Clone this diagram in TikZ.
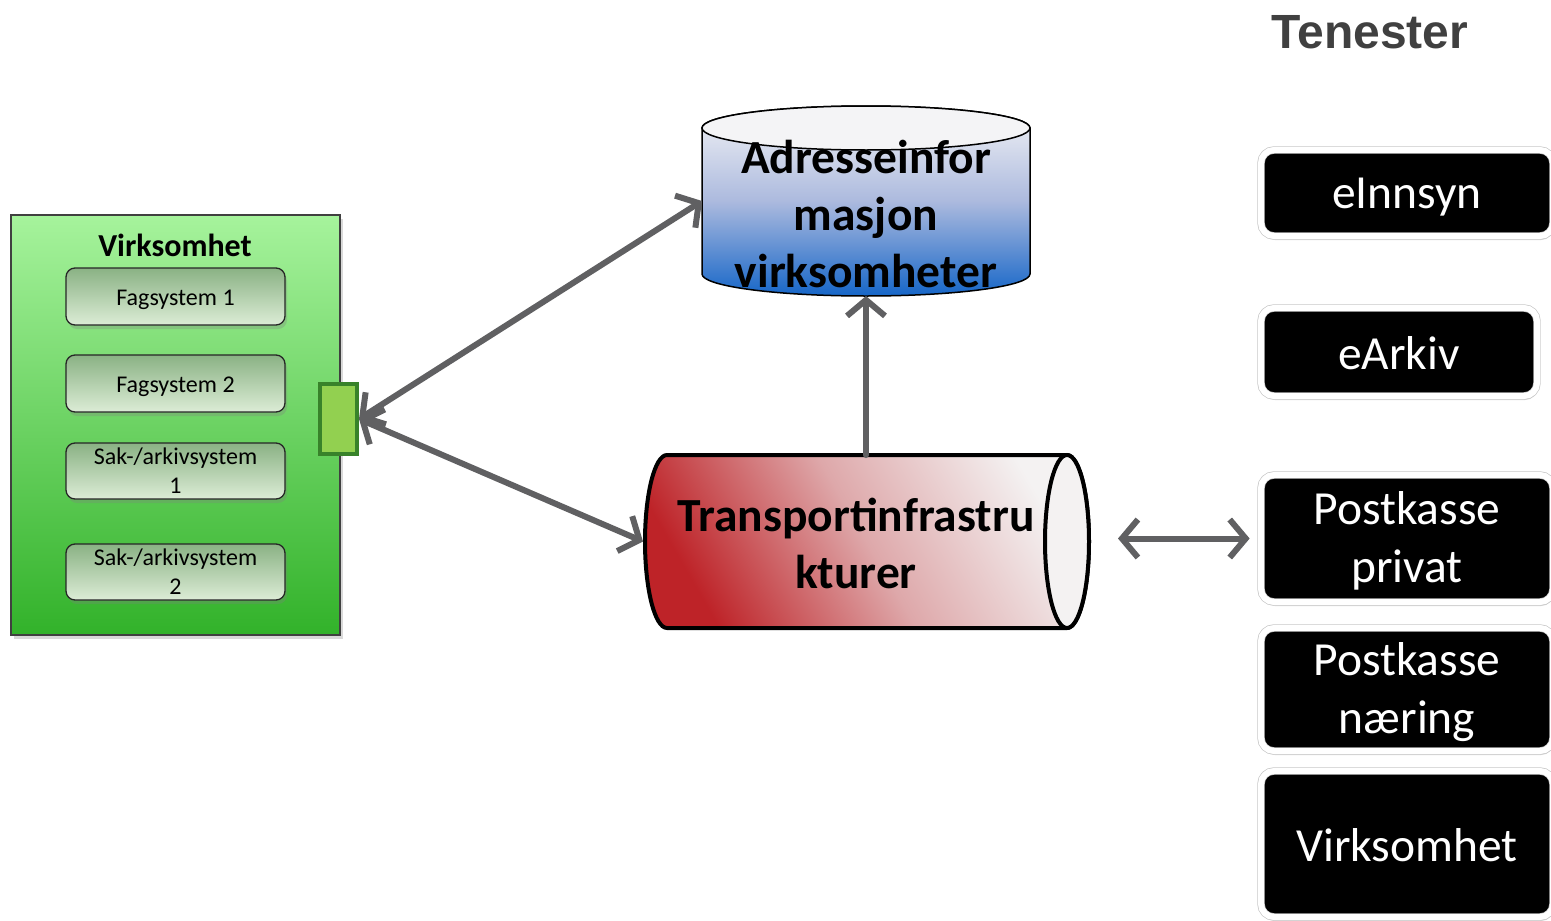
\documentclass[tikz,border=0pt]{standalone}
\usepackage{fontspec}
\setmainfont{Carlito}
\newfontfamily\arialfont{Liberation Sans}
\usetikzlibrary{arrows.meta,shadows,calc}
\definecolor{arrowgray}{RGB}{96,96,98}
\definecolor{greentop}{RGB}{166,243,156}
\definecolor{greenbot}{RGB}{50,178,42}
\definecolor{subtop}{RGB}{138,178,132}
\definecolor{subbot}{RGB}{220,236,214}
\definecolor{portfill}{RGB}{146,208,80}
\definecolor{portdraw}{RGB}{56,130,42}
\definecolor{dbtop}{RGB}{244,244,246}
\definecolor{dbmid}{RGB}{172,186,222}
\definecolor{dbbot}{RGB}{22,102,200}
\definecolor{trred}{RGB}{190,35,40}
\definecolor{trmid}{RGB}{222,168,170}
\definecolor{trwhite}{RGB}{244,242,242}
\definecolor{tentext}{RGB}{64,64,64}
\newcommand{\lowr}[2]{\raisebox{-#1}[\height][\depth]{#2}}
\newcommand{\twol}[2]{\begin{tabular}{@{}c@{}}#1\\#2\end{tabular}}
\begin{document}
\begin{tikzpicture}[x=1pt,y=-1pt,
  >={Straight Barb[length=16pt,width=38pt,line width=6pt]},
  conn/.style={draw=arrowgray, line width=6pt, line cap=round, line join=round},
  anchorbox/.style={shape=rectangle, inner sep=0pt, outer sep=0pt},
  subbox/.style={draw=black!85, line width=1.3pt, rounded corners=9pt,
     top color=subtop, bottom color=subbot, minimum width=219pt, inner sep=0pt,
     align=center, font=\fontsize{24}{29}\selectfont,
     drop shadow={shadow xshift=2pt, shadow yshift=-4pt, opacity=0.3}},
  svc/.style={fill=black, text=white, draw=black!22, double=white, double distance=6pt,
     line width=0.7pt, rounded corners=13pt, inner sep=0pt, align=center,
     font=\fontsize{47.5}{58}\selectfont, minimum width=292pt,
     drop shadow={shadow xshift=1pt, shadow yshift=-4pt, opacity=0.3}},
  bigbold/.style={font=\bfseries\fontsize{47.5}{57}\selectfont, align=center, inner sep=0pt}
]
\useasboundingbox (0,0) rectangle (1551,921);
\clip (0,0) rectangle (1551,921);

% Title
\node[font=\arialfont\bfseries\fontsize{48}{52}\selectfont, text=tentext] (ten) at (1370,32) {Tenester};

% Left organisation box
\node[draw=black!75, line width=1.2pt, top color=greentop, bottom color=greenbot,
      minimum width=329pt, minimum height=420pt, inner sep=0pt,
      drop shadow={shadow xshift=3pt, shadow yshift=-4pt, opacity=0.3}] (virks) at (175.5,425) {};
\node[font=\bfseries\fontsize{32}{36}\selectfont] (virkt) at (175,245) {Virksomhet};
\node[subbox, minimum height=57pt] (fs1) at (175.5,296.5) {\lowr{3pt}{Fagsystem 1}};
\node[subbox, minimum height=57pt] (fs2) at (175.5,383.5) {\lowr{3pt}{Fagsystem 2}};
\node[subbox, minimum height=56pt] (sak1) at (175.5,471) {Sak-/arkivsystem\\1};
\node[subbox, minimum height=56pt] (sak2) at (175.5,572) {Sak-/arkivsystem\\2};
\node[draw=portdraw, fill=portfill, line width=4pt, minimum width=37pt, minimum height=70pt, inner sep=0pt] (port) at (338.5,419) {};

% Database cylinder
\path[draw=black, line width=1.5pt, top color=dbtop, bottom color=dbbot, middle color=dbmid]
  (702,128) -- (702,274) arc[start angle=180, end angle=0, x radius=164, y radius=22]
  -- (1030,128) arc[start angle=0, end angle=-180, x radius=164, y radius=22] -- cycle;
\draw[fill=dbtop, line width=1.5pt] (866,128) ellipse[x radius=164, y radius=22];
\node[anchorbox, minimum width=328pt, minimum height=190pt] (db) at (866,201) {};
\node[bigbold] (dbt) at (866,214) {Adresseinfor\\masjon\\virksomheter};

% Transport cylinder
\path[draw=black, line width=4pt, left color=trred, right color=trwhite, middle color=trmid, shading angle=120]
  (1067,455) -- (667,455) arc[start angle=-90, end angle=-270, x radius=22, y radius=86.5]
  -- (1067,628) arc[start angle=90, end angle=-90, x radius=22, y radius=86.5] -- cycle;
\draw[fill=trwhite, line width=4pt] (1067,541.5) ellipse[x radius=22, y radius=86.5];
\node[anchorbox, minimum width=446pt, minimum height=173pt] (tr) at (866,541.5) {};
\node[bigbold] (trt) at (856,543) {Transportinfrastru\\kturer};

% Services
\node[svc, minimum height=86pt] (ein) at (1407,193) {\lowr{4pt}{eInnsyn}};
\node[svc, minimum width=276pt, minimum height=88pt] (eark) at (1399,352) {\lowr{1pt}{eArkiv}};
\node[svc, minimum height=127pt] (pp) at (1407,538.5) {\lowr{3pt}{\twol{Postkasse}{privat}}};
\node[svc, minimum height=123pt] (pn) at (1407,689.5) {\lowr{3pt}{\twol{Postkasse}{næring}}};
\node[svc, minimum height=146pt] (vs) at (1407,844) {\lowr{1pt}{Virksomhet}};

% Connectors
\draw[conn, <->] (port.east) -- (db.west);
\draw[conn, <->] (port.east) -- (tr.west);
\draw[conn, ->] (tr.north) -- (db.south);
\draw[conn, <->, shorten <=29pt, shorten >=11pt] (pp.west -| tr.east) -- (pp.west);
\end{tikzpicture}
\end{document}
